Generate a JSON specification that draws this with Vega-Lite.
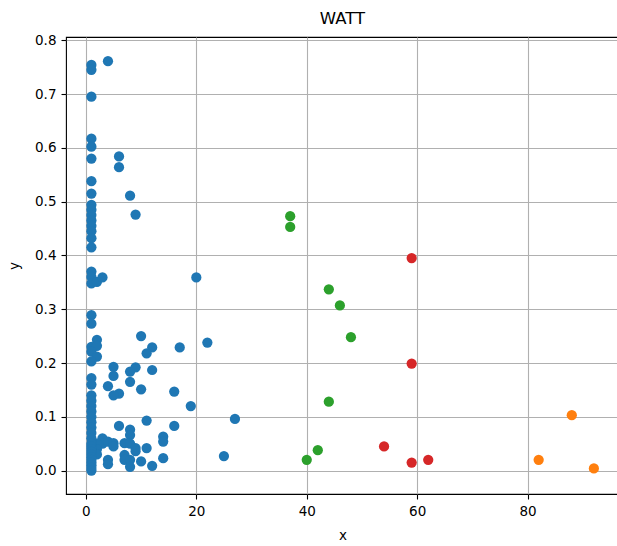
{
  "$schema": "https://vega.github.io/schema/vega-lite/v6.json",
  "autosize": {"type": "none"},
  "padding": {"left": 66, "top": 37, "right": 0, "bottom": 52},
  "width": 553,
  "height": 457,
  "background": "white",
  "title": {"text": "WATT", "font": "DejaVu Sans", "fontSize": 16.5, "fontWeight": "normal", "color": "black", "anchor": "middle", "baseline": "alphabetic", "offset": -7},
  "config": {
    "view": {"stroke": "black", "strokeWidth": 1.1},
    "axis": {"labelFont": "DejaVu Sans", "labelFontSize": 13.5, "labelColor": "black", "titleFont": "DejaVu Sans", "titleFontSize": 13.5, "titleFontWeight": "normal", "titleColor": "black", "tickColor": "black", "tickSize": 5, "tickWidth": 1.1, "labelPadding": 5, "domain": false, "gridColor": "#b0b0b0", "gridWidth": 1.1, "gridOpacity": 1}
  },
  "data": {"values": [
    {"x":1,"y":0.754,"c":"0"},{"x":1,"y":0.745,"c":"0"},{"x":4,"y":0.761,"c":"0"},{"x":1,"y":0.695,"c":"0"},
    {"x":1,"y":0.617,"c":"0"},{"x":1,"y":0.602,"c":"0"},{"x":1,"y":0.580,"c":"0"},{"x":6,"y":0.584,"c":"0"},{"x":6,"y":0.564,"c":"0"},
    {"x":1,"y":0.538,"c":"0"},{"x":1,"y":0.515,"c":"0"},{"x":8,"y":0.511,"c":"0"},{"x":9,"y":0.476,"c":"0"},
    {"x":1,"y":0.494,"c":"0"},{"x":1,"y":0.485,"c":"0"},{"x":1,"y":0.475,"c":"0"},{"x":1,"y":0.465,"c":"0"},{"x":1,"y":0.455,"c":"0"},
    {"x":1,"y":0.445,"c":"0"},{"x":1,"y":0.432,"c":"0"},{"x":1,"y":0.415,"c":"0"},
    {"x":1,"y":0.370,"c":"0"},{"x":1,"y":0.360,"c":"0"},{"x":1,"y":0.348,"c":"0"},{"x":2,"y":0.351,"c":"0"},{"x":3,"y":0.359,"c":"0"},{"x":20,"y":0.359,"c":"0"},
    {"x":1,"y":0.289,"c":"0"},{"x":1,"y":0.273,"c":"0"},
    {"x":10,"y":0.250,"c":"0"},{"x":2,"y":0.243,"c":"0"},{"x":22,"y":0.238,"c":"0"},{"x":1,"y":0.230,"c":"0"},{"x":2,"y":0.232,"c":"0"},
    {"x":12,"y":0.229,"c":"0"},{"x":17,"y":0.229,"c":"0"},{"x":1,"y":0.221,"c":"0"},{"x":11,"y":0.218,"c":"0"},{"x":2,"y":0.212,"c":"0"},
    {"x":1,"y":0.203,"c":"0"},{"x":5,"y":0.193,"c":"0"},{"x":9,"y":0.192,"c":"0"},{"x":12,"y":0.187,"c":"0"},{"x":8,"y":0.184,"c":"0"},
    {"x":5,"y":0.176,"c":"0"},{"x":1,"y":0.172,"c":"0"},{"x":8,"y":0.165,"c":"0"},{"x":1,"y":0.160,"c":"0"},{"x":4,"y":0.157,"c":"0"},
    {"x":10,"y":0.151,"c":"0"},{"x":16,"y":0.147,"c":"0"},{"x":6,"y":0.143,"c":"0"},{"x":5,"y":0.140,"c":"0"},
    {"x":19,"y":0.120,"c":"0"},{"x":27,"y":0.096,"c":"0"},{"x":11,"y":0.093,"c":"0"},{"x":16,"y":0.083,"c":"0"},{"x":6,"y":0.083,"c":"0"},
    {"x":8,"y":0.076,"c":"0"},{"x":8,"y":0.066,"c":"0"},{"x":14,"y":0.063,"c":"0"},{"x":14,"y":0.054,"c":"0"},
    {"x":3,"y":0.060,"c":"0"},{"x":3,"y":0.050,"c":"0"},{"x":4,"y":0.054,"c":"0"},{"x":5,"y":0.051,"c":"0"},{"x":5,"y":0.045,"c":"0"},
    {"x":7,"y":0.051,"c":"0"},{"x":8,"y":0.050,"c":"0"},{"x":9,"y":0.042,"c":"0"},{"x":9,"y":0.036,"c":"0"},{"x":11,"y":0.042,"c":"0"},
    {"x":2,"y":0.050,"c":"0"},{"x":2,"y":0.040,"c":"0"},{"x":2,"y":0.030,"c":"0"},
    {"x":4,"y":0.020,"c":"0"},{"x":4,"y":0.012,"c":"0"},{"x":7,"y":0.029,"c":"0"},{"x":7,"y":0.020,"c":"0"},{"x":8,"y":0.020,"c":"0"},{"x":8,"y":0.007,"c":"0"},
    {"x":10,"y":0.017,"c":"0"},{"x":12,"y":0.009,"c":"0"},{"x":14,"y":0.023,"c":"0"},{"x":25,"y":0.027,"c":"0"},
    {"x":1,"y":0.140,"c":"0"},{"x":1,"y":0.130,"c":"0"},{"x":1,"y":0.120,"c":"0"},{"x":1,"y":0.110,"c":"0"},{"x":1,"y":0.100,"c":"0"},
    {"x":1,"y":0.090,"c":"0"},{"x":1,"y":0.080,"c":"0"},{"x":1,"y":0.070,"c":"0"},{"x":1,"y":0.060,"c":"0"},{"x":1,"y":0.050,"c":"0"},
    {"x":1,"y":0.045,"c":"0"},{"x":1,"y":0.040,"c":"0"},{"x":1,"y":0.035,"c":"0"},{"x":1,"y":0.030,"c":"0"},{"x":1,"y":0.025,"c":"0"},
    {"x":1,"y":0.020,"c":"0"},{"x":1,"y":0.015,"c":"0"},{"x":1,"y":0.010,"c":"0"},{"x":1,"y":0.005,"c":"0"},{"x":1,"y":0.000,"c":"0"},
    {"x":37,"y":0.473,"c":"2"},{"x":37,"y":0.453,"c":"2"},{"x":44,"y":0.337,"c":"2"},{"x":46,"y":0.307,"c":"2"},{"x":48,"y":0.248,"c":"2"},
    {"x":44,"y":0.128,"c":"2"},{"x":42,"y":0.038,"c":"2"},{"x":40,"y":0.020,"c":"2"},
    {"x":59,"y":0.395,"c":"3"},{"x":59,"y":0.199,"c":"3"},{"x":54,"y":0.045,"c":"3"},{"x":59,"y":0.015,"c":"3"},{"x":62,"y":0.020,"c":"3"},
    {"x":88,"y":0.103,"c":"1"},{"x":82,"y":0.020,"c":"1"},{"x":92,"y":0.004,"c":"1"}
  ]},
  "mark": {"type": "point", "filled": true, "shape": "circle", "size": 105, "opacity": 1},
  "encoding": {
    "x": {"field": "x", "type": "quantitative", "title": "x",
      "scale": {"domain": [-3.6, 96.55], "nice": false, "zero": false},
      "axis": {"values": [0, 20, 40, 60, 80], "grid": true, "titlePadding": 11}},
    "y": {"field": "y", "type": "quantitative", "title": "y",
      "scale": {"domain": [-0.0435, 0.806], "nice": false, "zero": false},
      "axis": {"values": [0, 0.1, 0.2, 0.3, 0.4, 0.5, 0.6, 0.7, 0.8], "format": ".1f", "grid": true, "titlePadding": 13}},
    "color": {"field": "c", "type": "nominal",
      "scale": {"domain": ["0", "1", "2", "3"], "range": ["#1f77b4", "#ff7f0e", "#2ca02c", "#d62728"]},
      "legend": null}
  }
}
